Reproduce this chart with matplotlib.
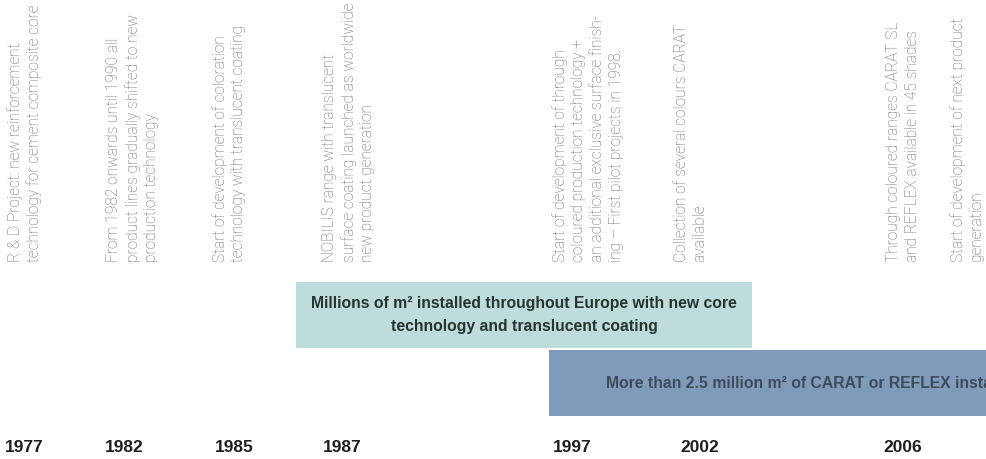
import matplotlib
matplotlib.use("Agg")
import matplotlib.pyplot as plt
from matplotlib import font_manager as fm

# ---- data ----
years = ["1977", "1982", "1985", "1987", "1997", "2002", "2006"]
events = [
    "R & D Project: new reinforcement\ntechnology for cement composite core",
    "From 1982 onwards until 1990 all\nproduct lines gradually shifted to new\nproduction technology",
    "Start of development of coloration\ntechnology with translucent coating",
    "NOBILIS range with translucent\nsurface coating launched as worldwide\nnew product generation",
    "Start of development of through\ncoloured production technology +\nan additional exclusive surface finish-\ning \u2013 First pilot projects in 1998.",
    "Collection of several colours CARAT\navailable",
    "Through coloured ranges CARAT SL\nand REFLEX available in 45 shades",
    "Start of development of next product\ngeneration",
]
band_labels = [
    "Millions of m\u00b2 installed throughout Europe with new core\ntechnology and translucent coating",
    "More than 2.5 million m\u00b2 of CARAT or REFLEX installed",
]

# ---- layout (pixels) ----
year_x = [5, 105, 215, 323, 553, 680, 883]
event_x = [7, 106, 212, 322, 552, 674, 886, 950]
band_left = [296, 549]
band_right = [752, 1130]
band_y = [315, 383]
band_h = 66
band_colors = ["#bddcdb", "#809bb9"]
band_text_x = [524, 606]

names = {f.name for f in fm.fontManager.ttflist}
narrow = "Liberation Sans Narrow" if "Liberation Sans Narrow" in names else "Liberation Sans"

fig = plt.figure(figsize=(9.87, 4.59), dpi=100)
ax = fig.add_axes([0, 0, 1, 1])
ax.set_xlim(0, 987)
ax.set_ylim(459, 0)
ax.axis("off")

for x, t in zip(event_x, events):
    ax.text(x, 262, t, rotation=90, rotation_mode="anchor", ha="left", va="top",
            multialignment="left", fontsize=11.2, family=["Roboto", "DejaVu Sans"],
            fontweight="light", color="#6a6a6a", linespacing=1.3)

for l, r, y, c in zip(band_left, band_right, band_y, band_colors):
    ax.barh(y, r - l, left=l, height=band_h, color=c, edgecolor="none")

ax.text(band_text_x[0], band_y[0], band_labels[0], ha="center", va="center",
        multialignment="center", fontsize=11.3, fontweight="bold",
        family=[narrow, "DejaVu Sans"], color="#26332f", linespacing=1.6)
ax.text(band_text_x[1], band_y[1], band_labels[1], ha="left", va="center",
        fontsize=11.3, fontweight="bold", family=[narrow, "DejaVu Sans"],
        color="#3d4c5c", clip_on=True)

for x, y in zip(year_x, years):
    ax.text(x, 447, y, ha="left", va="center", fontsize=12.5, fontweight="bold",
            family=[narrow, "DejaVu Sans"], color="#1e1e1e")

fig.savefig("out.png", dpi=100)
